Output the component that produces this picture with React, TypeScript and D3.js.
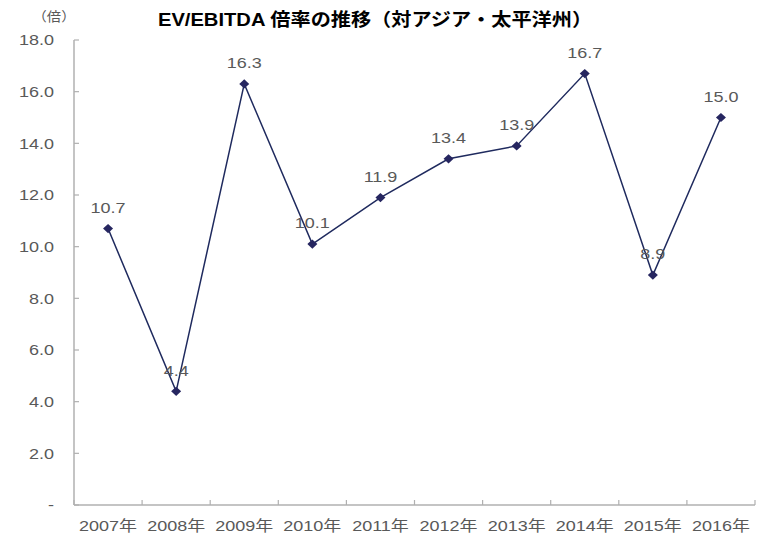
import React from "react";
import * as d3 from "d3";

const categories = ["2007年", "2008年", "2009年", "2010年", "2011年", "2012年", "2013年", "2014年", "2015年", "2016年"];
const values = [10.7, 4.4, 16.3, 10.1, 11.9, 13.4, 13.9, 16.7, 8.9, 15.0];
const yTicks = [0, 2, 4, 6, 8, 10, 12, 14, 16, 18];
const title = "EV/EBITDA 倍率の推移（対アジア・太平洋州）";
const unitLabel = "（倍）";

const W = 761;
const H = 537;
const left = 74;
const right = 755;
const top = 40;
const bottom = 505;
const font = "'Liberation Sans', Arial, 'Noto Sans CJK JP', sans-serif";
const textColor = "#595959";
const axisColor = "#b0b0b0";
const lineColor = "#1f2a5e";

function SText(props: {
  x: number;
  y: number;
  sx?: number;
  anchor?: string;
  size: number;
  fill: string;
  weight?: string;
  children: React.ReactNode;
}) {
  const { x, y, sx = 1.2, anchor = "middle", size, fill, weight, children } = props;
  return (
    <g transform={`translate(${x},${y}) scale(${sx},1)`}>
      <text x={0} y={0} dy="0.35em" textAnchor={anchor} fontSize={size} fill={fill} fontWeight={weight}>
        {children}
      </text>
    </g>
  );
}

export default function App() {
  const x = d3.scaleBand<string>().domain(categories).range([left, right]);
  const y = d3.scaleLinear().domain([0, 18]).range([bottom, top]);
  const cx = (i: number) => (x(categories[i]) as number) + x.bandwidth() / 2;
  const line = d3
    .line<number>()
    .x((_, i) => cx(i))
    .y((d) => y(d));
  const diamond = "M0,-4.6L5,0L0,4.6L-5,0Z";

  const xTickPos = [...categories.map((c) => x(c) as number), right];

  return (
    <svg width={W} height={H} style={{ position: "absolute", left: 0, top: 0, background: "#fff" }} fontFamily={font}>
      <rect width={W} height={H} fill="#fff" />
      <SText x={375} y={20} sx={1.12} size={18} weight="bold" fill="#000">
        {title}
      </SText>
      <SText x={54} y={16} sx={1.1} size={13} fill={textColor}>
        {unitLabel}
      </SText>
      {/* y axis */}
      <line x1={left} x2={left} y1={top} y2={bottom} stroke={axisColor} strokeWidth={1.5} />
      {yTicks.map((t) => (
        <g key={t}>
          <line x1={left} x2={left + 5} y1={y(t)} y2={y(t)} stroke={axisColor} strokeWidth={1.2} />
          <SText x={54} y={y(t)} anchor="end" size={15} fill={textColor}>
            {t === 0 ? "-" : t.toFixed(1)}
          </SText>
        </g>
      ))}
      {/* x axis */}
      <line x1={left} x2={right} y1={bottom} y2={bottom} stroke={axisColor} strokeWidth={1.5} />
      {xTickPos.map((p, i) => (
        <line key={i} x1={p} x2={p} y1={bottom} y2={bottom - 5} stroke={axisColor} strokeWidth={1.2} />
      ))}
      {categories.map((c, i) => (
        <SText key={c} x={cx(i)} y={526} size={15} fill={textColor}>
          {c}
        </SText>
      ))}
      <path d={line(values) as string} fill="none" stroke={lineColor} strokeWidth={1.5} />
      {values.map((v, i) => (
        <path key={i} d={diamond} transform={`translate(${cx(i)},${y(v)})`} fill="#262660" />
      ))}
      {values.map((v, i) => (
        <SText key={"l" + i} x={cx(i)} y={y(v) - 21} size={15} fill={textColor}>
          {v.toFixed(1)}
        </SText>
      ))}
    </svg>
  );
}
